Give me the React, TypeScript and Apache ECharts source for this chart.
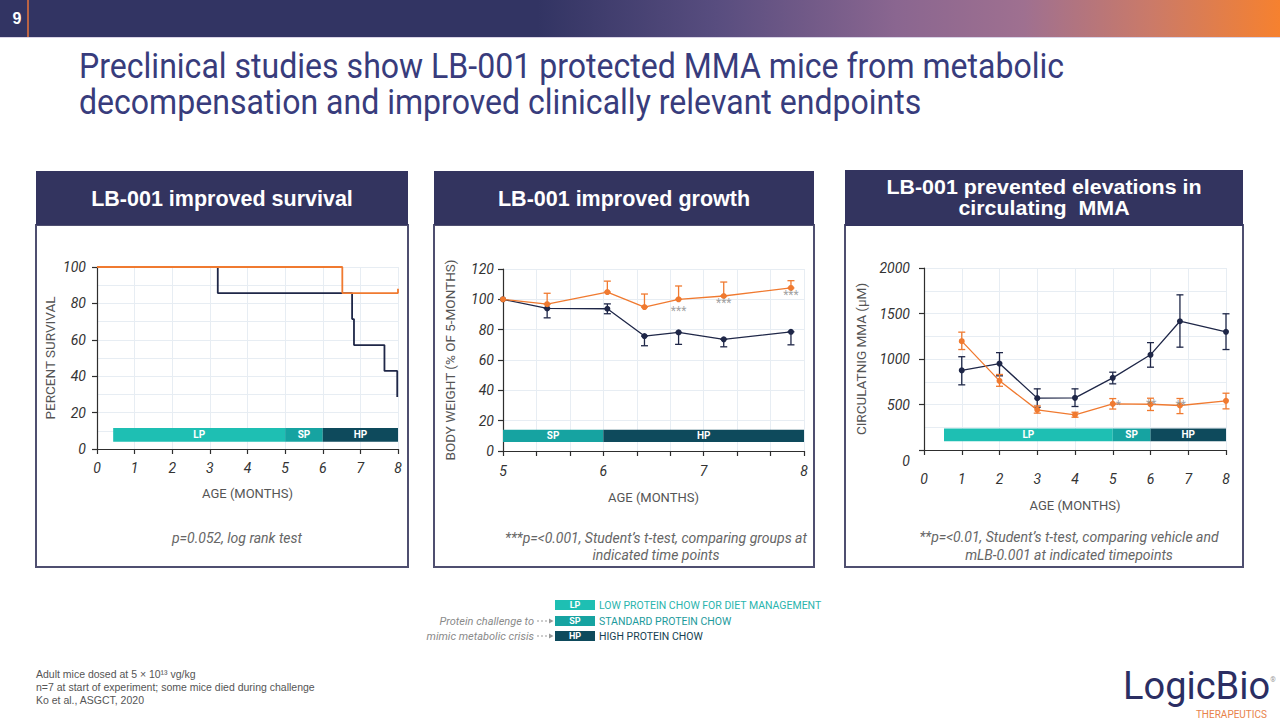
import React, { useEffect, useRef } from 'react';
import * as echarts from 'echarts';

// ---------- DATA ----------
// Kaplan-Meier survival (month, % survival) — step points
const survivalVehicle = [[0, 100], [3.21, 85.7], [6.78, 71.4], [6.83, 57.1], [7.64, 42.9], [7.98, 28.6]];
const survivalLB001 = [[0, 100], [6.52, 85.7], [8, 85.7], [8, 88]];

// Body weight (% of 5-months)
const growthMonths = [5, 5.44, 6.04, 6.41, 6.75, 7.2, 7.87];
const growthVehicle = [100, 94, 93.8, 75.8, 78.2, 73.6, 78.6];
const growthVehicleLow = [100, 87.8, 90.5, 69.4, 70.3, 68.7, 70];
const growthVehicleHigh = [100, 94, 97, 75.8, 78.2, 73.6, 78.6];
const growthLB001 = [100, 96.8, 104.8, 94.9, 100, 102.2, 107.5];
const growthLB001High = [100, 104, 112, 103.5, 108.8, 111.4, 112.3];
const growthStars = [[6.75, 92.4, '***'], [7.2, 97.7, '***'], [7.87, 102.8, '***']];

// Circulating MMA (µM)
const mmaMonths = [1, 2, 3, 4, 5, 6, 6.78, 8];
const mmaVehicle = [875, 950, 570, 573, 793, 1046, 1415, 1299];
const mmaVehicleLow = [716, 815, 470, 478, 727, 910, 1130, 1104];
const mmaVehicleHigh = [1025, 1070, 672, 672, 855, 1180, 1705, 1497];
const mmaLB001 = [1196, 760, 441, 387, 507, 503, 489, 540];
const mmaLB001Low = [1104, 700, 405, 360, 450, 434, 400, 452];
const mmaLB001High = [1295, 830, 485, 415, 565, 569, 566, 624];
const mmaStars = [[5.15, 500, '*'], [6.02, 505, '**'], [6.8, 495, '**'], [8.13, 565, '*']];

// Diet phases (month from, month to)
const phasesSurvival = [['LP', 0.43, 5], ['SP', 5, 6], ['HP', 6, 8]];
const phasesGrowth = [['SP', 5, 6], ['HP', 6, 8]];
const phasesMMA = [['LP', 0.53, 5], ['SP', 5, 6], ['HP', 6, 8]];

// Tick settings
const survivalTicks = { xMin: 0, xMax: 8, xStep: 1, yMin: 0, yMax: 100, yStep: 20 };
const growthTicks = { xMin: 5, xMax: 8, xStep: 1, yMin: 0, yMax: 120, yStep: 20 };
const mmaTicks = { xMin: 0, xMax: 8, xStep: 1, yMin: 0, yMax: 2000, yStep: 500 };

// ---------- STYLE ----------
const NAVY = '#1f2748';
const ORANGE = '#f07a30';
const PHASE_COLORS: Record<string, string> = { LP: '#1ebfb3', SP: '#16a3a1', HP: '#0e4a5c' };
const HEADER_BG = '#33345f';
const FONT = 'Roboto';

const phaseSeries = (phases: any[], gridIdx: number, yLo: number, yHi: number) => ({
  type: 'custom',
  xAxisIndex: gridIdx,
  yAxisIndex: gridIdx,
  z: 1,
  silent: true,
  encode: { x: [0, 1] },
  data: phases.map((p) => ({ value: [p[1], p[2]], name: p[0] })),
  renderItem: (params: any, api: any) => {
    const ph = phases[params.dataIndex];
    const p0 = api.coord([api.value(0), yHi]);
    const p1 = api.coord([api.value(1), yLo]);
    return {
      type: 'group',
      children: [
        {
          type: 'rect',
          shape: { x: p0[0], y: p0[1], width: p1[0] - p0[0], height: p1[1] - p0[1] },
          style: { fill: PHASE_COLORS[ph[0]] },
        },
        {
          type: 'text',
          x: (p0[0] + p1[0]) / 2,
          y: (p0[1] + p1[1]) / 2,
          style: {
            text: ph[0],
            fill: '#ffffff',
            font: `bold 10px ${FONT}`,
            align: 'center',
            verticalAlign: 'middle',
          },
        },
      ],
    };
  },
});

const errorSeries = (xs: number[], lo: number[], hi: number[], color: string, gridIdx: number) => ({
  type: 'custom',
  xAxisIndex: gridIdx,
  yAxisIndex: gridIdx,
  z: 3,
  silent: true,
  encode: { x: 0, y: [1, 2] },
  data: xs.map((x, i) => [x, lo[i], hi[i]]).filter((d) => d[1] !== d[2]),
  renderItem: (_params: any, api: any) => {
    const x = api.value(0);
    const pLo = api.coord([x, api.value(1)]);
    const pHi = api.coord([x, api.value(2)]);
    const cap = 3.5;
    const style = { stroke: color, lineWidth: 1.3, fill: 'none' };
    return {
      type: 'group',
      children: [
        { type: 'line', shape: { x1: pLo[0], y1: pLo[1], x2: pHi[0], y2: pHi[1] }, style },
        { type: 'line', shape: { x1: pLo[0] - cap, y1: pLo[1], x2: pLo[0] + cap, y2: pLo[1] }, style },
        { type: 'line', shape: { x1: pHi[0] - cap, y1: pHi[1], x2: pHi[0] + cap, y2: pHi[1] }, style },
      ],
    };
  },
});

const starSeries = (stars: any[], gridIdx: number) => ({
  type: 'scatter',
  xAxisIndex: gridIdx,
  yAxisIndex: gridIdx,
  z: 6,
  silent: true,
  symbolSize: 0,
  data: stars.map((s) => ({ value: [s[0], s[1]], name: s[2] })),
  label: {
    show: true,
    position: 'inside',
    formatter: '{b}',
    color: '#8a8a8a',
    fontSize: 12,
    fontFamily: FONT,
  },
});

const axisLineStyle = { color: '#2e2e2e', width: 1.2 };
const gridLine = { color: '#e7edf3', width: 1 };

const makeX = (gridIdx: number, t: any, labelMargin: number, nameGap: number, extra: any = {}) => ({
  type: 'value',
  gridIndex: gridIdx,
  min: t.xMin,
  max: t.xMax,
  interval: t.xStep,
  name: 'AGE (MONTHS)',
  nameLocation: 'middle',
  nameGap,
  nameTextStyle: { color: '#555', fontSize: 13, fontFamily: FONT },
  axisLine: { show: true, onZero: false, lineStyle: axisLineStyle },
  axisTick: { show: true, length: 5, lineStyle: axisLineStyle },
  axisLabel: { color: '#333', fontStyle: 'italic', fontSize: 14, fontFamily: FONT, margin: labelMargin },
  splitLine: { show: true, lineStyle: gridLine },
  ...extra,
});

const makeY = (gridIdx: number, t: any, name: string, labelMargin: number, nameGap: number, extra: any = {}) => ({
  type: 'value',
  gridIndex: gridIdx,
  min: t.yMin,
  max: t.yMax,
  interval: t.yStep,
  name,
  nameLocation: 'middle',
  nameGap,
  nameTextStyle: { color: '#555', fontSize: 13.5, fontFamily: FONT },
  axisLine: { show: true, onZero: false, lineStyle: axisLineStyle },
  axisTick: { show: true, length: 5, lineStyle: axisLineStyle },
  axisLabel: { color: '#333', fontStyle: 'italic', fontSize: 14, fontFamily: FONT, margin: labelMargin },
  splitLine: { show: true, lineStyle: gridLine },
  ...extra,
});

const txt = (text: string, x: number, y: number, font: string, fill: string, align = 'left', extra: any = {}) => ({
  type: 'text',
  x,
  y,
  silent: true,
  ...extra,
  style: { text, font, fill, align, verticalAlign: 'middle', ...(extra.style || {}) },
});

const panelBorder = (x: number, w: number) => ({
  type: 'rect',
  silent: true,
  z: 0,
  shape: { x, y: 225, width: w, height: 342 },
  style: { fill: 'none', stroke: '#4f4f70', lineWidth: 2 },
});

const panelHeader = (x: number, y: number, w: number, h: number) => ({
  type: 'rect',
  silent: true,
  shape: { x, y, width: w, height: h },
  style: { fill: HEADER_BG },
});

const headerGradient = new echarts.graphic.LinearGradient(0, 0, 1, 0, [
  { offset: 0, color: '#323463' },
  { offset: 0.42, color: '#323463' },
  { offset: 0.56, color: '#584d7f' },
  { offset: 0.7, color: '#8a6690' },
  { offset: 0.8, color: '#9f7090' },
  { offset: 0.9, color: '#cb7a68' },
  { offset: 1, color: '#f6812f' },
]);

const arrow = (y: number) => [
  {
    type: 'line',
    silent: true,
    shape: { x1: 537, y1: y, x2: 551, y2: y },
    style: { stroke: '#999', lineWidth: 1, lineDash: [2, 2] },
  },
  {
    type: 'polygon',
    silent: true,
    shape: { points: [[549, y - 2.5], [553.5, y], [549, y + 2.5]] },
    style: { fill: '#999' },
  },
];

const legendBox = (label: string, y: number, desc: string, descColor: string) => [
  {
    type: 'rect',
    silent: true,
    shape: { x: 555, y: y - 5, width: 40, height: 10 },
    style: { fill: PHASE_COLORS[label] },
  },
  txt(label, 575, y, `bold 9px ${FONT}`, '#fff', 'center'),
  txt(desc, 599, y, `10.5px ${FONT}`, descColor, 'left'),
];

export default function App() {
  const ref = useRef<HTMLDivElement>(null);

  useEffect(() => {
    if (!ref.current) return;
    const chart = echarts.init(ref.current, undefined, { renderer: 'svg' });

    const option: any = {
      animation: false,
      backgroundColor: '#ffffff',
      textStyle: { fontFamily: FONT },
      grid: [
        { left: 97, top: 267, width: 301, height: 182 },
        { left: 503, top: 269, width: 301, height: 182 },
        { left: 924, top: 268, width: 302, height: 182 },
      ],
      xAxis: [
        makeX(0, survivalTicks, 12, 38),
        makeX(1, growthTicks, 13, 40, {
          minorTick: { show: true, splitNumber: 3, length: 5, lineStyle: axisLineStyle },
          minorSplitLine: { show: true, lineStyle: gridLine },
        }),
        makeX(2, mmaTicks, 22, 49),
      ],
      yAxis: [
        makeY(0, survivalTicks, 'PERCENT SURVIVAL', 11, 40, {
          minorSplitLine: { show: true, lineStyle: gridLine },
          minorTick: { show: false, splitNumber: 2 },
        }),
        makeY(1, growthTicks, 'BODY WEIGHT (% OF 5-MONTHS)', 9, 46),
        makeY(2, mmaTicks, 'CIRCULATNIG MMA (µM)', 14, 56, {
          minorSplitLine: { show: true, lineStyle: gridLine },
          minorTick: { show: false, splitNumber: 2 },
          axisLabel: {
            color: '#333',
            fontStyle: 'italic',
            fontSize: 14,
            fontFamily: FONT,
            margin: 14,
            lineHeight: 21,
            formatter: (v: number) => (v === 0 ? '\n0' : String(v)),
          },
        }),
      ],
      series: [
        // Panel 1 — survival
        phaseSeries(phasesSurvival, 0, 4, 11.5),
        {
          type: 'line',
          xAxisIndex: 0,
          yAxisIndex: 0,
          step: 'end',
          showSymbol: false,
          z: 4,
          data: survivalVehicle,
          lineStyle: { color: NAVY, width: 1.8 },
          itemStyle: { color: NAVY },
        },
        {
          type: 'line',
          xAxisIndex: 0,
          yAxisIndex: 0,
          step: 'end',
          showSymbol: false,
          z: 5,
          data: survivalLB001,
          lineStyle: { color: ORANGE, width: 1.8 },
          itemStyle: { color: ORANGE },
        },
        // Panel 2 — growth
        phaseSeries(phasesGrowth, 1, 6, 14),
        errorSeries(growthMonths, growthVehicleLow, growthVehicleHigh, NAVY, 1),
        errorSeries(growthMonths, growthLB001, growthLB001High, ORANGE, 1),
        {
          type: 'line',
          xAxisIndex: 1,
          yAxisIndex: 1,
          z: 4,
          symbol: 'circle',
          symbolSize: 6,
          data: growthMonths.map((x, i) => [x, growthVehicle[i]]),
          lineStyle: { color: NAVY, width: 1.3 },
          itemStyle: { color: NAVY },
        },
        {
          type: 'line',
          xAxisIndex: 1,
          yAxisIndex: 1,
          z: 5,
          symbol: 'circle',
          symbolSize: 6,
          data: growthMonths.map((x, i) => [x, growthLB001[i]]),
          lineStyle: { color: ORANGE, width: 1.3 },
          itemStyle: { color: ORANGE },
        },
        starSeries(growthStars, 1),
        // Panel 3 — MMA
        phaseSeries(phasesMMA, 2, 95, 235),
        errorSeries(mmaMonths, mmaVehicleLow, mmaVehicleHigh, NAVY, 2),
        errorSeries(mmaMonths, mmaLB001Low, mmaLB001High, ORANGE, 2),
        {
          type: 'line',
          xAxisIndex: 2,
          yAxisIndex: 2,
          z: 4,
          symbol: 'circle',
          symbolSize: 6,
          data: mmaMonths.map((x, i) => [x, mmaVehicle[i]]),
          lineStyle: { color: NAVY, width: 1.3 },
          itemStyle: { color: NAVY },
        },
        {
          type: 'line',
          xAxisIndex: 2,
          yAxisIndex: 2,
          z: 5,
          symbol: 'circle',
          symbolSize: 6,
          data: mmaMonths.map((x, i) => [x, mmaLB001[i]]),
          lineStyle: { color: ORANGE, width: 1.3 },
          itemStyle: { color: ORANGE },
        },
        starSeries(mmaStars, 2),
      ],
      graphic: [
        // top bar
        { type: 'rect', silent: true, shape: { x: 0, y: 0, width: 1280, height: 37 }, style: { fill: headerGradient } },
        { type: 'line', silent: true, shape: { x1: 0, y1: 37.5, x2: 1280, y2: 37.5 }, style: { stroke: '#d9d3e6', lineWidth: 1 } },
        { type: 'line', silent: true, shape: { x1: 28, y1: 0, x2: 28, y2: 37 }, style: { stroke: '#e8733a', lineWidth: 1.5 } },
        txt('9', 17, 18, `bold 16px "Liberation Sans"`, '#ffffff', 'center'),
        // title
        txt('Preclinical studies show LB-001 protected MMA mice from metabolic', 79, 66, `400 35px ${FONT}`, '#383c7c', 'left', { scaleX: 0.916 }),
        txt('decompensation and improved clinically relevant endpoints', 79, 102, `400 35px ${FONT}`, '#383c7c', 'left', { scaleX: 0.916 }),
        // panels
        panelBorder(36, 372),
        panelBorder(434, 380),
        panelBorder(845, 398),
        panelHeader(36, 171, 372, 54),
        panelHeader(434, 171, 380, 54),
        panelHeader(845, 170, 398, 56),
        txt('LB-001 improved survival', 222, 199, `bold 21.5px "Liberation Sans"`, '#ffffff', 'center'),
        txt('LB-001 improved growth', 624, 199, `bold 21.5px "Liberation Sans"`, '#ffffff', 'center'),
        txt('LB-001 prevented elevations in', 1044, 186.5, `bold 20px "Liberation Sans"`, '#ffffff', 'center', { scaleX: 1.07 }),
        txt('circulating  MMA', 1044, 207.5, `bold 20px "Liberation Sans"`, '#ffffff', 'center', { scaleX: 1.07 }),
        // footnotes
        txt('p=0.052, log rank test', 237, 538, `italic 14px ${FONT}`, '#666', 'center'),
        txt('***p=<0.001, Student’s t-test, comparing groups at', 656, 538, `italic 14px ${FONT}`, '#666', 'center'),
        txt('indicated time points', 656, 555, `italic 14px ${FONT}`, '#666', 'center'),
        txt('**p=<0.01, Student’s t-test, comparing vehicle and', 1069, 537, `italic 14px ${FONT}`, '#666', 'center'),
        txt('mLB-0.001 at indicated timepoints', 1069, 555, `italic 14px ${FONT}`, '#666', 'center'),
        // legend
        ...legendBox('LP', 605, 'LOW PROTEIN CHOW FOR DIET MANAGEMENT', '#2ab5ae'),
        ...legendBox('SP', 621, 'STANDARD PROTEIN CHOW', '#1c9a9c'),
        ...legendBox('HP', 636, 'HIGH PROTEIN CHOW', '#163f52'),
        txt('Protein challenge to', 534, 621, `italic 11px ${FONT}`, '#8a8a8a', 'right'),
        txt('mimic metabolic crisis', 534, 636, `italic 11px ${FONT}`, '#8a8a8a', 'right'),
        ...arrow(621),
        ...arrow(636),
        // footer
        txt('Adult mice dosed at 5 × 10¹³ vg/kg', 36, 674, `10.5px "Liberation Sans"`, '#555', 'left'),
        txt('n=7 at start of experiment; some mice died during challenge', 36, 687, `10.5px "Liberation Sans"`, '#555', 'left'),
        txt('Ko et al., ASGCT, 2020', 36, 700, `10.5px "Liberation Sans"`, '#555', 'left'),
        // logo
        txt('LogicBio', 1123, 686, `400 38px ${FONT}`, '#2b2e63', 'left'),
        txt('THERAPEUTICS', 1267, 714, `10px ${FONT}`, '#e8824a', 'right'),
        txt('®', 1273, 680, `7px ${FONT}`, '#999', 'center'),
      ],
    };

    chart.setOption(option);
    return () => chart.dispose();
  }, []);

  return <div ref={ref} style={{ position: 'absolute', left: 0, top: 0, width: 1280, height: 720 }} />;
}
